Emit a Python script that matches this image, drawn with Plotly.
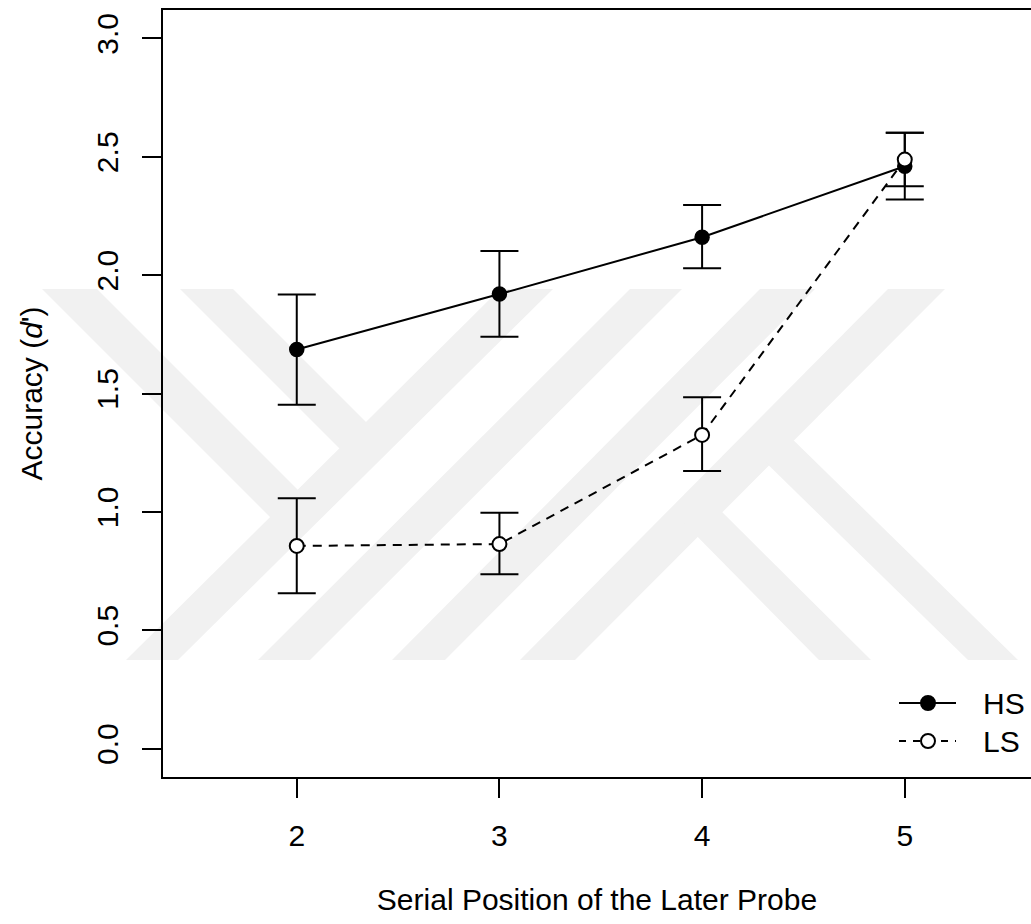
import plotly.graph_objects as go

# ---- data ----
positions = [2, 3, 4, 5]
hs_mean = [1.686, 1.920, 2.160, 2.460]
hs_lower = [1.452, 1.740, 2.029, 2.320]
hs_upper = [1.918, 2.102, 2.296, 2.602]
ls_mean = [0.856, 0.864, 1.325, 2.488]
ls_lower = [0.656, 0.736, 1.173, 2.376]
ls_upper = [1.057, 0.996, 1.484, 2.602]
y_ticks = [0.0, 0.5, 1.0, 1.5, 2.0, 2.5, 3.0]
y_ticktext = ["0.0", "0.5", "1.0", "1.5", "2.0", "2.5", "3.0"]
series_names = ["HS", "LS"]

FONT = "Liberation Sans, Arial, Helvetica, sans-serif"
W_FIG, H_FIG = 1031, 924
L, T, R_, B = 163, 10, 1031, 777
PW, PH = R_ - L, B - T
WM = "rgb(241,241,241)"

def err(mean, lo, up):
    return dict(type="data", symmetric=False,
                array=[u - m for m, u in zip(mean, up)],
                arrayminus=[m - l for m, l in zip(mean, lo)],
                color="black", thickness=2, width=19)

fig = go.Figure()
fig.add_trace(go.Scatter(
    x=positions, y=hs_mean, mode="lines+markers", name=series_names[0],
    line=dict(color="black", width=2),
    marker=dict(symbol="circle", size=14, color="black",
                line=dict(color="black", width=1.5)),
    error_y=err(hs_mean, hs_lower, hs_upper), showlegend=False))
fig.add_trace(go.Scatter(
    x=positions, y=ls_mean, mode="lines+markers", name=series_names[1],
    line=dict(color="black", width=2, dash="9px,7px"),
    marker=dict(symbol="circle", size=14, color="white",
                line=dict(color="black", width=2)),
    error_y=err(ls_mean, ls_lower, ls_upper), showlegend=False))

# ---- pixel -> paper helper ----
def P(x, y):
    return (x - L) / PW, (B - y) / PH

def band_path(pts):
    s = ""
    for i, (x, y) in enumerate(pts):
        px, py = P(x, y)
        s += ("M" if i == 0 else "L") + f"{px:.5f},{py:.5f} "
    return s + "Z"

# ---- faint background watermark ----
TOP, BOT = 289, 660
polys = [
    [(500, TOP), (553, TOP), (178, BOT), (126, BOT)],
    [(630, TOP), (682, TOP), (310, BOT), (258, BOT)],
    [(760, TOP), (815, TOP), (445, BOT), (392, BOT)],
    [(888, TOP), (945, TOP), (575, BOT), (520, BOT)],
    [(42, TOP), (97, TOP), (311.75, 503.75), (284.25, 531.25)],
    [(180, TOP), (233, TOP), (379.75, 435.75), (353.25, 462.25)],
    [(682, 521), (707, 497), (871, BOT), (819, BOT)],
    [(754, 451), (779, 426), (1018, BOT), (968, BOT)],
]
shapes = [dict(type="path", xref="paper", yref="paper", layer="below",
               path=band_path(p), fillcolor=WM, line=dict(width=0))
          for p in polys]

# ---- legend (R-style, no box) ----
annotations = []
leg_rows = [(703, "solid", "black"), (741, "dash", "white")]
for name, (yy, dash, fill) in zip(series_names, leg_rows):
    x0, y0 = P(899, yy)
    x1, _ = P(956, yy)
    shapes.append(dict(type="line", xref="paper", yref="paper",
                       x0=x0, x1=x1, y0=y0, y1=y0, layer="above",
                       line=dict(color="black", width=2,
                                 dash="solid" if dash == "solid" else "7px,7px")))
    cx0, cy0 = P(928 - 7, yy + 7)
    cx1, cy1 = P(928 + 7, yy - 7)
    shapes.append(dict(type="circle", xref="paper", yref="paper",
                       x0=cx0, x1=cx1, y0=cy0, y1=cy1, layer="above",
                       fillcolor=fill, line=dict(color="black", width=2)))
    tx, ty = P(981, yy)
    annotations.append(dict(text=name, xref="paper", yref="paper", x=tx, y=ty,
                            xanchor="left", yanchor="middle", showarrow=False,
                            font=dict(size=30, family=FONT, color="black")))

fig.update_layout(
    width=W_FIG, height=H_FIG, autosize=False,
    margin=dict(l=L, r=W_FIG - R_, t=T, b=H_FIG - B, pad=0),
    paper_bgcolor="white", plot_bgcolor="white",
    font=dict(family=FONT, size=30, color="black"),
    shapes=shapes, annotations=annotations,
    showlegend=False,
    xaxis=dict(range=[1.34, 1.34 + PW / 202.67], tickvals=positions,
               ticktext=[str(p) for p in positions],
               showgrid=False, zeroline=False,
               showline=True, linecolor="black", linewidth=2, mirror=True,
               ticks="outside", ticklen=19, tickwidth=1.5, tickcolor="black",
               ticklabelstandoff=12,
               tickfont=dict(size=30, family=FONT),
               title=dict(text="Serial Position of the Later Probe",
                          font=dict(size=30, family=FONT), standoff=38)),
    yaxis=dict(range=[-0.12, 3.12], tickvals=y_ticks, ticktext=y_ticktext,
               showgrid=False, zeroline=False,
               showline=True, linecolor="black", linewidth=2, mirror=False,
               ticks="outside", ticklen=19, tickwidth=1.5, tickcolor="black",
               tickangle=-90, ticklabelstandoff=12,
               tickfont=dict(size=30, family=FONT),
               title=dict(text="Accuracy (<i>d</i>')",
                          font=dict(size=30, family=FONT), standoff=40)),
)

fig.write_html("out.html")
